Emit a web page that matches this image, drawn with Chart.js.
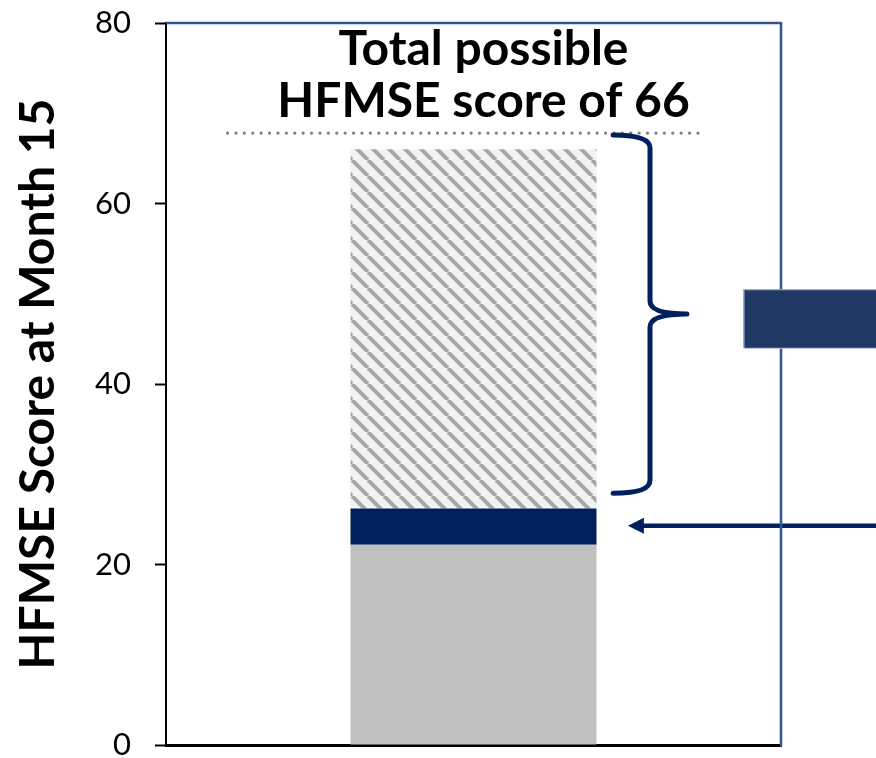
<!DOCTYPE html>
<html>
<head>
<meta charset="utf-8">
<script src="https://cdn.jsdelivr.net/npm/chart.js@4.4.1/dist/chart.umd.min.js"></script>
<style>
  body { margin: 0; background: #fff; }
  canvas { display: block; }
</style>
</head>
<body>
<canvas id="hfmseChart" width="876" height="758"></canvas>
<script>
// values
var categories = [''];
var baselineScore = [22.2];     // grey part
var treatmentGain = [4.0];      // navy part
var remainingToMax = [39.8];    // hatched part, up to 66
var yTicks = [0, 20, 40, 60, 80];
var maxScoreLine = [67.8];      // dotted line
var braceRange = [27.9, 67.6];
var arrowAt = [24.3];
var calloutRange = [44.0, 50.5];
var titleLines = ['Total possible', 'HFMSE score of 66'];
var yTitle = 'HFMSE Score at Month 15';

var NAVY = '#002060';

var canvas = document.getElementById('hfmseChart');
var ctx = canvas.getContext('2d');

// diagonal hatch like the office pattern fill
function makeHatch() {
  var c = document.createElement('canvas');
  c.width = 16; c.height = 16;
  var g = c.getContext('2d');
  g.fillStyle = '#f2f2f2';
  g.fillRect(0, 0, 16, 16);
  g.strokeStyle = '#a6a6a6';
  g.lineWidth = 4;
  for (var k = -1; k <= 1; k++) {
    g.beginPath();
    g.moveTo(k * 16, 0);
    g.lineTo(k * 16 + 16, 16);
    g.stroke();
  }
  return ctx.createPattern(c, 'repeat');
}

var overlay = {
  id: 'overlay',
  afterDraw: function(chart) {
    var c = chart.ctx, a = chart.chartArea, ys = chart.scales.y, xs = chart.scales.x;
    var w = a.right - a.left;
    var cx = xs.getPixelForValue(0);
    c.save();

    // heading over the bar
    c.fillStyle = '#000';
    c.font = 'bold 48px Lato';
    c.textAlign = 'center';
    c.textBaseline = 'alphabetic';
    c.fillText(titleLines[0], cx + 10, a.top + 42);
    c.fillText(titleLines[1], cx + 10, a.top + 94);

    // dotted max line
    var yd = ys.getPixelForValue(maxScoreLine[0]);
    c.strokeStyle = '#7f7f7f';
    c.lineWidth = 3.2;
    c.lineCap = 'round';
    c.setLineDash([0.1, 8.3]);
    c.beginPath();
    c.moveTo(a.left + w * 0.1, yd);
    c.lineTo(a.left + w * 0.875, yd);
    c.stroke();
    c.setLineDash([]);

    // curly brace
    var yTop = ys.getPixelForValue(braceRange[1]);
    var yBot = ys.getPixelForValue(braceRange[0]);
    var yMid = (yTop + yBot) / 2;
    var x0 = a.left + w * 0.727, xv = a.left + w * 0.787, xt = a.left + w * 0.847;
    var r = 13;
    c.strokeStyle = NAVY;
    c.lineWidth = 5;
    c.lineJoin = 'round';
    c.beginPath();
    c.moveTo(x0, yTop);
    c.quadraticCurveTo(xv, yTop, xv, yTop + r);
    c.lineTo(xv, yMid - r);
    c.quadraticCurveTo(xv, yMid, xt, yMid);
    c.moveTo(xt, yMid);
    c.quadraticCurveTo(xv, yMid, xv, yMid + r);
    c.lineTo(xv, yBot - r);
    c.quadraticCurveTo(xv, yBot, x0, yBot);
    c.stroke();

    // arrow pointing at the navy segment
    var ya = ys.getPixelForValue(arrowAt[0]);
    var tip = a.left + w * 0.751;
    c.lineCap = 'butt';
    c.lineWidth = 4.5;
    c.beginPath();
    c.moveTo(chart.width, ya);
    c.lineTo(tip + 14, ya);
    c.stroke();
    c.fillStyle = NAVY;
    c.beginPath();
    c.moveTo(tip, ya);
    c.lineTo(tip + 16, ya - 8);
    c.lineTo(tip + 16, ya + 8);
    c.closePath();
    c.fill();

    // blue frame top and right
    c.strokeStyle = '#2f5597';
    c.lineWidth = 2.5;
    c.beginPath();
    c.moveTo(a.left, a.top);
    c.lineTo(a.right, a.top);
    c.lineTo(a.right, a.bottom + 1.5);
    c.stroke();

    // callout box cut by the right edge
    var yb1 = ys.getPixelForValue(calloutRange[1]);
    var yb0 = ys.getPixelForValue(calloutRange[0]);
    var bx = a.left + w * 0.939;
    c.fillStyle = '#203864';
    c.fillRect(bx, yb1, chart.width - bx + 5, yb0 - yb1);
    c.strokeStyle = '#b4c0d8';
    c.lineWidth = 1;
    c.strokeRect(bx + 0.5, yb1 + 0.5, chart.width - bx + 5, yb0 - yb1);

    c.restore();
  }
};

var chart = new Chart(ctx, {
  type: 'bar',
  data: {
    labels: categories,
    datasets: [
      { data: baselineScore, backgroundColor: '#bfbfbf' },
      { data: treatmentGain, backgroundColor: NAVY },
      { data: remainingToMax, backgroundColor: makeHatch() }
    ]
  },
  options: {
    responsive: false,
    animation: false,
    events: [],
    layout: { padding: { top: 23, right: 95, left: 0, bottom: 0 } },
    datasets: { bar: { categoryPercentage: 1, barPercentage: 0.4, borderWidth: 0 } },
    plugins: { legend: { display: false }, tooltip: { enabled: false } },
    scales: {
      x: {
        stacked: true,
        ticks: { display: false },
        grid: { display: false },
        border: { display: true, color: '#000', width: 3 },
        afterFit: function(s) { s.height = 13; s.paddingLeft = 0; s.paddingRight = 0; }
      },
      y: {
        stacked: true,
        min: yTicks[0],
        max: yTicks[yTicks.length - 1],
        afterBuildTicks: function(s) {
          s.ticks = yTicks.map(function(v) { return { value: v }; });
        },
        ticks: { color: '#000', font: { family: 'Lato', size: 31 }, padding: 24 },
        grid: { drawOnChartArea: false, drawTicks: true, tickLength: 11, tickWidth: 2, tickColor: '#000' },
        border: { display: true, color: '#000', width: 2 },
        title: {
          display: true,
          text: yTitle,
          color: '#000',
          font: { family: 'Lato', size: 48, weight: 'bold', lineHeight: 1 },
          padding: { top: 15, bottom: 0 }
        },
        afterFit: function(s) { s.width = 166; s.paddingTop = 0; s.paddingBottom = 0; }
      }
    }
  },
  plugins: [overlay]
});
</script>
</body>
</html>
